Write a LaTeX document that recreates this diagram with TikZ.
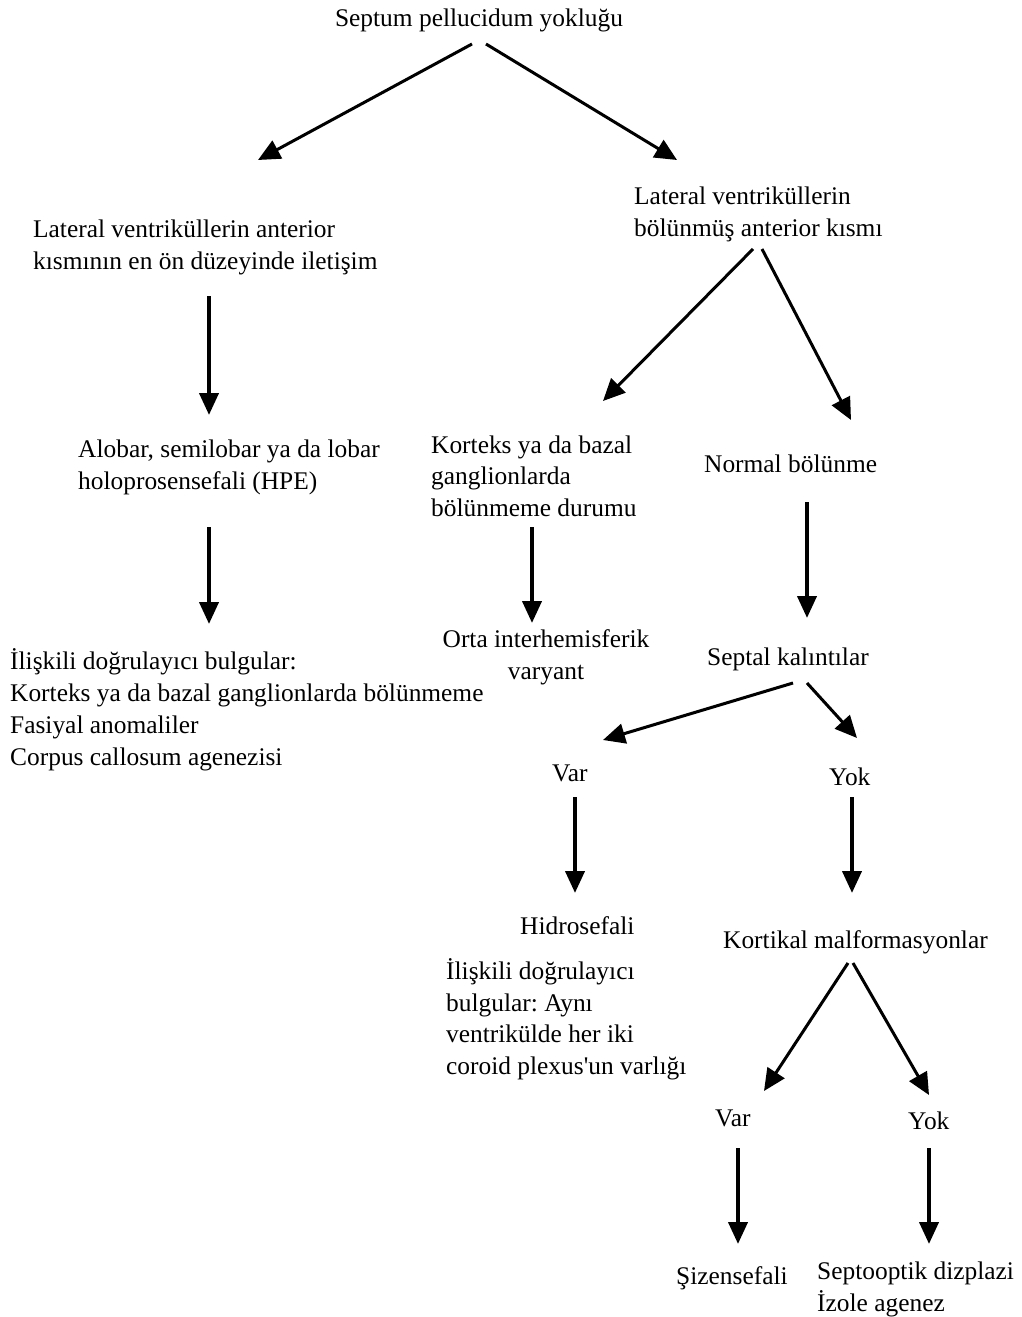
\documentclass[tikz,border=0pt]{standalone}
\usepackage{fontspec}
\setmainfont{Liberation Serif}
\usetikzlibrary{arrows.meta}
\frenchspacing
\begin{document}
\begin{tikzpicture}[x=1pt,y=-1pt,
  txt/.style={inner sep=0pt, font=\fontsize{25.4}{31.5}\selectfont, align=left, anchor=base west},
  ctxt/.style={txt, align=center, anchor=base},
  arr/.style={line width=3pt, -{Triangle[length=22pt,width=20pt]}},
  varr/.style={line width=4pt, -{Triangle[length=22pt,width=19pt]}}]
\fill[white] (0,0) rectangle (1021,1317);
\useasboundingbox (0,0) rectangle (1021,1317);

% (multi-line nodes: the base anchor lies on the last line)
\node[ctxt] (root) at (479,27) {Septum pellucidum yokluğu};
\node[txt] (left1) at (33,269) {Lateral ventriküllerin anterior\\kısmının en ön düzeyinde iletişim};
\node[txt] (right1) at (634,236) {Lateral ventriküllerin\\bölünmüş anterior kısmı};
\node[txt] (hpe) at (78,489) {Alobar, semilobar ya da lobar\\holoprosensefali (HPE)};
\node[txt] (korteks) at (431,516) {Korteks ya da bazal\\ganglionlarda\\bölünmeme durumu};
\node[txt] (normal) at (704,472) {Normal bölünme};
\node[ctxt] (orta) at (546,679) {Orta interhemisferik\\varyant};
\node[txt] (septal) at (707,665) {Septal kalıntılar};
\node[txt, font=\fontsize{25.4}{31.8}\selectfont] (iliskili1) at (10,765) {İlişkili doğrulayıcı bulgular:\\Korteks ya da bazal ganglionlarda bölünmeme\\Fasiyal anomaliler\\Corpus callosum agenezisi};
\node[txt] (var1) at (552,781) {Var};
\node[txt] (yok1) at (829,785) {Yok};
\node[txt] (hidro) at (520,934) {Hidrosefali};
\node[txt] (iliskili2) at (446,1074) {İlişkili doğrulayıcı\\bulgular: Aynı\\ventrikülde her iki\\coroid plexus\textquotesingle un varlığı};
\node[txt] (kortikal) at (723,948) {Kortikal malformasyonlar};
\node[txt] (var2) at (715,1126) {Var};
\node[txt] (yok2) at (908,1129) {Yok};
\node[txt] (sizen) at (676,1284) {Şizensefali};
\node[txt] (septo) at (817,1311) {Septooptik dizplazi\\İzole agenez};

% connector end points
\coordinate (rootL) at (472,44);   \coordinate (left1T) at (258,160);
\coordinate (rootR) at (486,44);   \coordinate (right1T) at (677,160);
\coordinate (left1B) at (209,296); \coordinate (hpeT) at (209,415);
\coordinate (right1L) at (753,249); \coordinate (korteksT) at (603,401);
\coordinate (right1R) at (762,249); \coordinate (normalT) at (851,420);
\coordinate (hpeB) at (209,527);   \coordinate (iliskili1T) at (209,624);
\coordinate (korteksB) at (532,527); \coordinate (ortaT) at (532,623);
\coordinate (normalB) at (807,502); \coordinate (septalT) at (807,618);
\coordinate (septalL) at (793,683); \coordinate (var1T) at (603,740);
\coordinate (septalR) at (807,683); \coordinate (yok1T) at (857,738);
\coordinate (var1B) at (575,797);  \coordinate (hidroT) at (575,893);
\coordinate (yok1B) at (852,797);  \coordinate (kortikalT) at (852,893);
\coordinate (kortikalL) at (848,963); \coordinate (var2T) at (764,1091);
\coordinate (kortikalR) at (853,963); \coordinate (yok2T) at (929,1095);
\coordinate (var2B) at (738,1148); \coordinate (sizenT) at (738,1244);
\coordinate (yok2B) at (929,1148); \coordinate (septoT) at (929,1244);

\draw[arr] (rootL) -- (left1T);
\draw[arr] (rootR) -- (right1T);
\draw[varr] (left1B) -- (hpeT);
\draw[arr] (right1L) -- (korteksT);
\draw[arr] (right1R) -- (normalT);
\draw[varr] (hpeB) -- (iliskili1T);
\draw[varr] (korteksB) -- (ortaT);
\draw[varr] (normalB) -- (septalT);
\draw[arr] (septalL) -- (var1T);
\draw[arr] (septalR) -- (yok1T);
\draw[varr] (var1B) -- (hidroT);
\draw[varr] (yok1B) -- (kortikalT);
\draw[arr] (kortikalL) -- (var2T);
\draw[arr] (kortikalR) -- (yok2T);
\draw[varr] (var2B) -- (sizenT);
\draw[varr] (yok2B) -- (septoT);
\end{tikzpicture}
\end{document}
